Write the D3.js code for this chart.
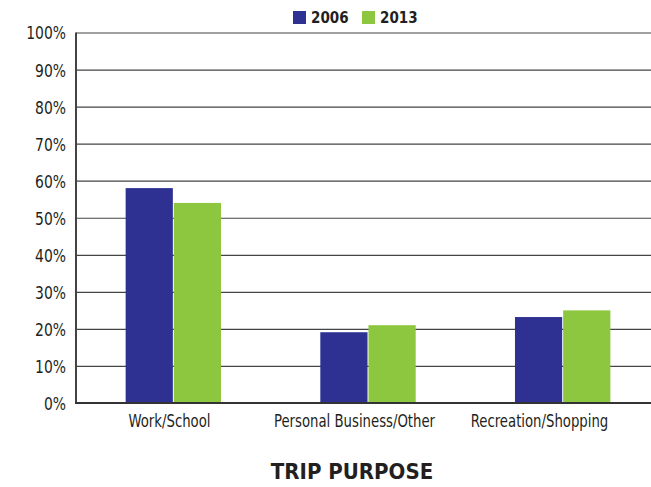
<!DOCTYPE html>
<html>
<head>
<meta charset="utf-8">
<script src="https://cdn.jsdelivr.net/npm/d3@7"></script>
<style>
  body { margin: 0; background: #fff; }
  text { font-family: "Liberation Sans Narrow", "DejaVu Sans Condensed", "Roboto", sans-serif; fill: #231f20; }
</style>
</head>
<body>
<script>
// data
var categories = ["Work/School", "Personal Business/Other", "Recreation/Shopping"];
var years = ["2006", "2013"];
var values2006 = [58, 19.1, 23.2];
var values2013 = [54, 21, 25];
var yTicks = [0, 10, 20, 30, 40, 50, 60, 70, 80, 90, 100];
var colors = ["#2e3192", "#8dc63f"];

var W = 651, H = 487;
var margin = {top: 32.5, right: -9, bottom: 84, left: 76},
    width = W - margin.left - margin.right,
    height = H - margin.top - margin.bottom;

var svg = d3.select("body").append("svg")
    .attr("width", W)
    .attr("height", H);

var g = svg.append("g")
    .attr("transform", "translate(" + margin.left + "," + margin.top + ")");

var x = d3.scaleBand()
    .domain(categories)
    .range([0, width])
    .paddingInner(0.51)
    .paddingOuter(0.255);

var xs = d3.scaleBand()
    .domain(years)
    .range([0, x.bandwidth()])
    .paddingInner(0.02);

// the category labels sit on a slightly tighter spacing than the bars
var xLabel = d3.scaleBand()
    .domain(categories)
    .range([1, 556]);

var y = d3.scaleLinear()
    .domain([0, 100])
    .range([height, 0]);

// gridlines
var yAxis = d3.axisRight(y)
    .tickValues(yTicks)
    .tickSize(width)
    .tickFormat("");

g.append("g").call(function(a) {
    a.call(yAxis);
    a.select(".domain").remove();
    a.selectAll(".tick line").attr("stroke", "#444").attr("stroke-width", 1.2);
});

// y labels (font squeezed a bit to look condensed)
g.append("g").call(function(a) {
    a.call(d3.axisLeft(y).tickValues(yTicks).tickSize(0).tickFormat(function(d) { return d + "%"; }));
    a.select(".domain").remove();
    a.selectAll(".tick text")
        .attr("x", -11.6)
        .attr("font-size", "18px")
        .attr("dy", "0.36em")
        .attr("transform", "scale(0.86,1)");
});

// bars
var rows = categories.map(function(c, i) {
    return {cat: c, vals: [values2006[i], values2013[i]]};
});

var groups = g.selectAll(".grp")
    .data(rows)
    .enter().append("g")
    .attr("transform", function(d) { return "translate(" + x(d.cat) + ",0)"; });

groups.selectAll("rect")
    .data(function(d) { return d.vals.map(function(v, j) { return {year: years[j], v: v, j: j}; }); })
    .enter().append("rect")
    .attr("x", function(d) { return xs(d.year); })
    .attr("width", xs.bandwidth())
    .attr("y", function(d) { return y(d.v); })
    .attr("height", function(d) { return height - y(d.v); })
    .attr("fill", function(d) { return colors[d.j]; });

// axes lines
g.append("line")
    .attr("x1", 0).attr("x2", 0)
    .attr("y1", 0).attr("y2", height)
    .attr("stroke", "#444").attr("stroke-width", 2);
g.append("line")
    .attr("x1", -1).attr("x2", width)
    .attr("y1", height).attr("y2", height)
    .attr("stroke", "#333").attr("stroke-width", 2);

// x labels
g.append("g")
    .attr("transform", "translate(0," + height + ")")
    .call(function(a) {
        a.call(d3.axisBottom(xLabel).tickSize(0));
        a.select(".domain").remove();
        a.selectAll(".tick text")
            .attr("font-size", "18px")
            .attr("y", 11)
            .attr("dy", "0.71em")
            .attr("transform", "scale(0.82,1)");
    });

// axis title
svg.append("text")
    .attr("x", 352)
    .attr("y", 479)
    .attr("text-anchor", "middle")
    .attr("font-size", "22px")
    .attr("font-weight", "bold")
    .text("TRIP PURPOSE");

// legend
var legendX = [293, 362];
var leg = svg.selectAll(".leg")
    .data(years)
    .enter().append("g")
    .attr("transform", function(d, i) { return "translate(" + legendX[i] + ",11)"; });

leg.append("rect")
    .attr("width", 13)
    .attr("height", 13)
    .attr("fill", function(d, i) { return colors[i]; });

leg.append("text")
    .attr("x", 18)
    .attr("y", 12)
    .attr("font-size", "15px")
    .attr("font-weight", "bold")
    .text(function(d) { return d; });
</script>
</body>
</html>
